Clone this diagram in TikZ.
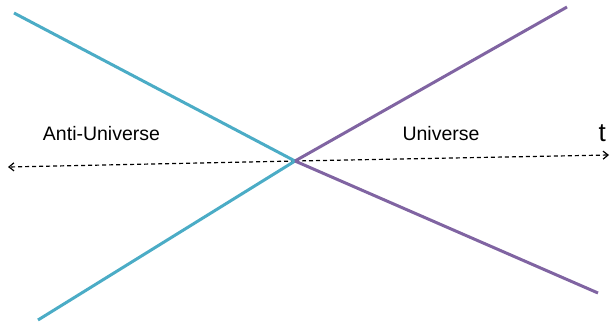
\documentclass[tikz,border=0pt]{standalone}
\usepackage{fontspec}
\setmainfont{Liberation Sans}
\usetikzlibrary{arrows.meta}
\definecolor{aqua}{HTML}{4BACC6}
\definecolor{violet2}{HTML}{8064A2}
\tikzset{
  anti/.style={draw=aqua, line width=3pt},
  uni/.style={draw=violet2, line width=3pt},
  timeaxis/.style={draw=black, line width=1.2pt, dash pattern=on 4pt off 3pt, -{Straight Barb[length=5pt,width=8pt,line width=1.2pt]}},
  lbl/.style={font=\fontsize{19.5}{22}\selectfont, anchor=base, inner sep=0pt}
}
\begin{document}
\begin{tikzpicture}[x=1pt,y=-1pt]
\useasboundingbox (0,0) rectangle (610,325);
\coordinate (O) at (295,161);
\coordinate (TL) at (14,13);
\coordinate (BL) at (38,320);
\coordinate (TR) at (567,7);
\coordinate (BR) at (598,293);
\coordinate (L) at (8,167);
\coordinate (R) at (609,155);
\draw[timeaxis] (O) -- (L);
\draw[timeaxis] (O) -- (R);
\draw[anti] (TL) -- (O);
\draw[anti] (BL) -- (O);
\draw[uni] (TR) -- (O);
\draw[uni] (BR) -- (O);
\node[lbl] (au) at (101.5,140.3) {Anti-Universe};
\node[lbl] (u) at (441,140.3) {Universe};
\node[lbl, font=\fontsize{26}{30}\selectfont] (t) at (602.3,141) {t};
\end{tikzpicture}
\end{document}
